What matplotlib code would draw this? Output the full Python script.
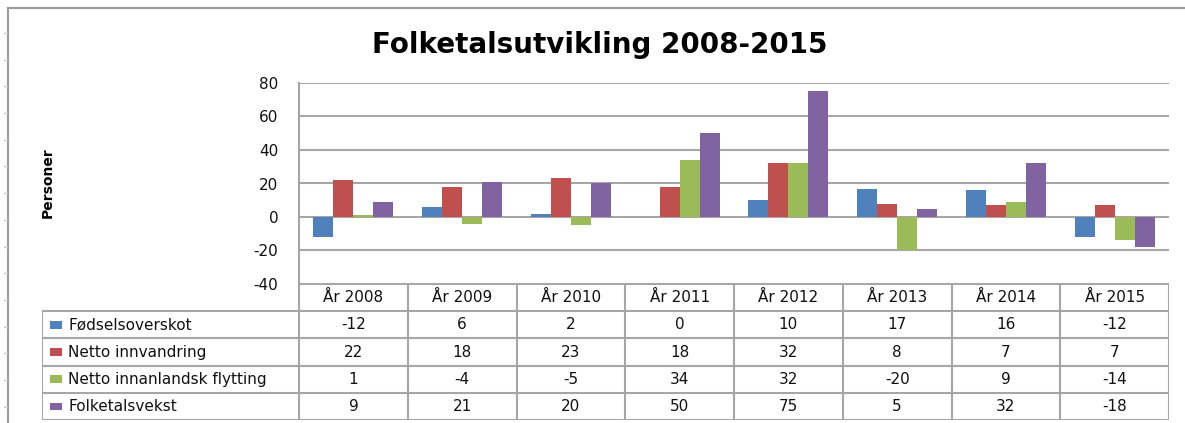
import matplotlib
matplotlib.use("Agg")
import matplotlib.pyplot as plt
from matplotlib.patches import Rectangle
from matplotlib.lines import Line2D
import numpy as np

plt.rcParams["axes.unicode_minus"] = False

# ---- data ----
years = ["År 2008", "År 2009", "År 2010", "År 2011", "År 2012", "År 2013", "År 2014", "År 2015"]
series_names = ["Fødselsoverskot", "Netto innvandring", "Netto innanlandsk flytting", "Folketalsvekst"]
fodselsoverskot = [-12, 6, 2, 0, 10, 17, 16, -12]
netto_innvandring = [22, 18, 23, 18, 32, 8, 7, 7]
netto_innanlandsk = [1, -4, -5, 34, 32, -20, 9, -14]
folketalsvekst = [9, 21, 20, 50, 75, 5, 32, -18]
yticks = [-40, -20, 0, 20, 40, 60, 80]
title = "Folketalsutvikling 2008-2015"
ylabel = "Personer"

series = [fodselsoverskot, netto_innvandring, netto_innanlandsk, folketalsvekst]
colors = ["#4F81BD", "#C0504D", "#9BBB59", "#8064A2"]
grid_c = "#A6A6A6"
txt_c = "#111111"

W, H = 1185, 423
fig = plt.figure(figsize=(W / 100, H / 100), dpi=100)

def fx(px):
    return px / W

def fy(py):
    return 1 - py / H

# main plot area (pixels): x 299..1169, y 83..284
L, R, T, B = 299, 1169, 83, 284
ax = fig.add_axes([fx(L), fy(B), fx(R - L), (B - T) / H])
n = len(years)
x = np.arange(n)
bw = 20 / ((R - L) / n)
for k, (vals, c) in enumerate(zip(series, colors)):
    ax.bar(x + (k - 1.5) * bw, vals, width=bw, color=c, edgecolor="none",
           linewidth=0, zorder=3)
ax.set_xlim(-0.5, n - 0.5)
ax.set_ylim(-40, 80)
ax.set_yticks(yticks)
ax.set_xticks([])
ax.yaxis.grid(True, color=grid_c, linewidth=1.5, zorder=0)
for s in ["top", "right", "bottom"]:
    ax.spines[s].set_visible(False)
ax.spines["left"].set_color(grid_c)
ax.spines["left"].set_linewidth(1.5)
ax.tick_params(axis="y", length=0, pad=15, labelsize=11, labelcolor=txt_c)
ax.set_facecolor("none")

# data table area: x 42..1169, y 284..420
TL, TB = 42, 420
tax = fig.add_axes([fx(TL), fy(TB), fx(R - TL), (TB - B) / H])
unit = (R - L) / n
xl = -0.5 - (L - TL) / unit
tax.set_xlim(xl, n - 0.5)
nrows = len(series) + 1
tax.set_ylim(nrows, 0)
tax.axis("off")

lk = dict(color=grid_c, linewidth=1.5, solid_capstyle="projecting")
# horizontal lines
tax.plot([-0.5, n - 0.5], [0, 0], **lk)
for r in range(1, nrows + 1):
    tax.plot([xl, n - 0.5], [r, r], **lk)
# vertical lines
for c in range(n + 1):
    tax.plot([-0.5 + c, -0.5 + c], [0, nrows], **lk)
tax.plot([xl, xl], [1, nrows], **lk)

for i, yr in enumerate(years):
    tax.text(i, 0.5, yr, ha="center", va="center", fontsize=11, color=txt_c)

for r, (name, vals, c) in enumerate(zip(series_names, series, colors), start=1):
    tax.add_patch(Rectangle((xl + 8 / unit, r + 0.5 - 0.14), 12 / unit, 0.28,
                            facecolor=c, edgecolor="none"))
    tax.text(xl + 26 / unit, r + 0.5, name, ha="left", va="center",
             fontsize=11, color=txt_c)
    for i, v in enumerate(vals):
        tax.text(i, r + 0.5, str(v), ha="center", va="center", fontsize=11, color=txt_c)

# title and y label
fig.text(fx(600), fy(45), title, ha="center", va="center", fontsize=20,
         fontweight="bold", color="#000000")
fig.text(fx(48), fy(183), ylabel, ha="center", va="center", rotation=90,
         fontsize=10, fontweight="bold", color="#000000")

# outer frame of the chart
fig.add_artist(Line2D([fx(8), fx(8)], [fy(8), fy(423)], transform=fig.transFigure,
                      color="#9A9A9A", linewidth=1.5))
fig.add_artist(Line2D([fx(8), fx(1185)], [fy(8), fy(8)], transform=fig.transFigure,
                      color="#9A9A9A", linewidth=1.5))
for py in np.arange(33, 410, 26.7):
    fig.add_artist(Line2D([fx(4), fx(7)], [fy(py), fy(py)], transform=fig.transFigure,
                          color="#C8C8C8", linewidth=1))

fig.savefig("out.png", dpi=100)
